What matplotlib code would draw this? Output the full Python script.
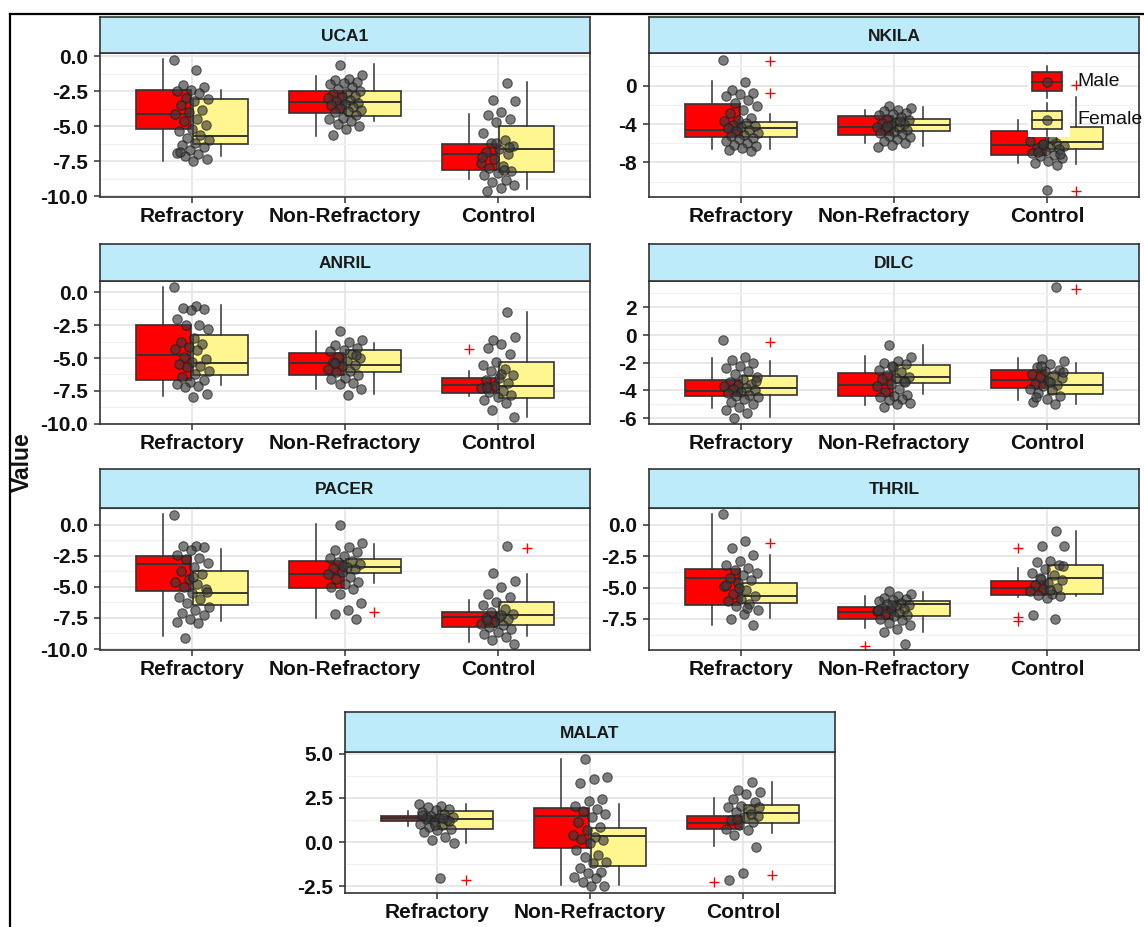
import numpy as np
import matplotlib
matplotlib.use("Agg")
import matplotlib.pyplot as plt
from matplotlib.lines import Line2D
from matplotlib.patches import Rectangle

plt.rcParams['font.family'] = ['Liberation Sans', 'DejaVu Sans']

CATEGORIES = ["Refractory", "Non-Refractory", "Control"]
SEXES = ["Male", "Female"]

# box statistics per group: (lower whisker, q1, median, q3, upper whisker)
UCA1_MALE = [(-7.5, -5.19, -4.12, -2.43, -0.19), (-5.67, -4.02, -3.29, -2.45, -1.38), (-8.76, -8.14, -6.95, -6.24, -4.1)]
UCA1_FEMALE = [(-7.1, -6.24, -5.67, -3.05, -2.43), (-4.64, -4.24, -3.29, -2.45, -0.55), (-9.45, -8.24, -6.6, -4.95, -1.86)]
UCA1_OUT_MALE = [[], [], []]
UCA1_OUT_FEMALE = [[], [], []]
UCA1_POINTS = [
    [-0.24, -1.0, -2.05, -2.2, -2.4, -2.5, -2.6, -3.0, -3.05, -3.2, -3.5, -3.8, -4.0, -4.1, -4.5, -4.6,
     -4.9, -5.2, -5.3, -5.6, -5.8, -6.0, -6.2, -6.3, -6.5, -6.7, -6.9, -7.0, -7.1, -7.3, -7.5, -6.85],
    [-0.6, -1.3, -1.6, -1.7, -1.8, -1.9, -2.0, -2.2, -2.3, -2.5, -2.6, -2.7, -2.8, -2.9, -3.0, -3.1, -3.2,
     -3.3, -3.4, -3.5, -3.6, -3.7, -3.8, -3.9, -4.0, -4.2, -4.4, -4.5, -4.6, -4.8, -5.0, -5.2, -5.6],
    [-1.9, -3.1, -3.2, -4.0, -4.2, -4.5, -4.7, -5.5, -6.0, -6.2, -6.4, -6.6, -6.8, -7.0, -7.3, -7.6, -7.8,
     -8.0, -8.2, -8.3, -8.5, -8.8, -9.0, -9.2, -9.4, -9.6, -6.5, -6.2, -7.2, -8.1],
]

NKILA_MALE = [(-6.6, -5.36, -4.66, -1.91, 0.45), (-5.98, -5.18, -4.31, -3.13, -2.5), (-8.07, -7.27, -6.23, -4.7, -3.62)]
NKILA_FEMALE = [(-6.6, -5.39, -4.42, -3.83, -2.92), (-6.26, -4.73, -4.14, -3.44, -2.23), (-8.17, -6.57, -5.88, -4.31, -1.18)]
NKILA_OUT_MALE = [[], [], []]
NKILA_OUT_FEMALE = [[2.6, -0.77], [], [0.1, -11.0]]
NKILA_POINTS = [
    [2.7, 0.38, -0.42, -0.77, -0.87, -1.1, -1.46, -1.81, -2.16, -2.5, -2.85, -3.37, -3.55, -3.72, -3.9,
     -4.07, -4.24, -4.35, -4.42, -4.6, -4.77, -4.94, -5.11, -5.29, -5.46, -5.6, -5.81, -5.98, -6.22,
     -6.33, -6.5, -6.75, -6.8],
    [-2.1, -2.3, -2.5, -2.6, -2.8, -3.0, -3.1, -3.3, -3.5, -3.6, -3.8, -3.9, -4.0, -4.1, -4.3, -4.4, -4.5,
     -4.6, -4.8, -4.9, -5.0, -5.2, -5.4, -5.6, -5.8, -6.0, -6.2, -6.4, -3.7, -4.2],
    [-6.0, -6.2, -6.3, -6.4, -6.5, -6.6, -6.8, -7.0, -7.2, -7.3, -7.5, -7.8, -8.1, -8.3, -6.1, -5.8, -5.6,
     -6.9, -7.1, -10.85],
]

ANRIL_MALE = [(-7.93, -6.68, -4.76, -2.5, 0.38), (-7.34, -6.27, -5.37, -4.65, -2.97), (-7.93, -7.7, -7.03, -6.52, -6.01)]
ANRIL_FEMALE = [(-7.08, -6.29, -5.4, -3.27, -0.97), (-7.75, -6.04, -5.52, -4.37, -3.86), (-9.49, -8.08, -7.16, -5.27, -1.48)]
ANRIL_OUT_MALE = [[], [], [-4.3]]
ANRIL_OUT_FEMALE = [[], [], []]
ANRIL_POINTS = [
    [0.38, -1.05, -1.15, -1.3, -1.35, -2.0, -2.45, -2.5, -2.76, -3.45, -3.78, -3.9, -4.17, -4.3, -4.42,
     -4.94, -5.06, -5.32, -5.45, -5.58, -5.7, -5.96, -6.22, -6.47, -6.68, -6.86, -6.99, -7.11, -7.24,
     -7.75, -8.0],
    [-2.95, -3.6, -3.8, -4.0, -4.2, -4.4, -4.5, -4.7, -4.9, -5.0, -5.2, -5.3, -5.5, -5.6, -5.8, -6.0, -6.1,
     -6.3, -6.5, -6.6, -6.9, -7.0, -7.4, -7.8, -5.4, -4.8],
    [-1.5, -3.6, -3.4, -3.9, -4.2, -4.7, -5.3, -5.5, -5.8, -6.0, -6.3, -6.5, -6.7, -6.9, -7.1, -7.3, -7.5,
     -7.6, -7.8, -8.0, -8.2, -8.4, -9.0, -9.5, -6.2, -7.2],
]

DILC_MALE = [(-5.28, -4.41, -4.05, -3.23, -1.64), (-5.04, -4.41, -3.57, -2.75, -1.52), (-4.67, -3.83, -3.23, -2.51, -1.64)]
DILC_FEMALE = [(-5.88, -4.31, -3.81, -2.99, -1.9), (-4.24, -3.47, -3.04, -2.14, -0.7), (-4.96, -4.29, -3.57, -2.75, -2.0)]
DILC_OUT_MALE = [[], [], []]
DILC_OUT_FEMALE = [[-0.5], [], [3.3]]
DILC_POINTS = [
    [-0.35, -1.6, -1.8, -2.0, -2.2, -2.4, -2.6, -2.8, -3.0, -3.2, -3.4, -3.5, -3.6, -3.7, -3.8, -3.9, -4.0,
     -4.1, -4.2, -4.3, -4.4, -4.5, -4.6, -4.8, -5.0, -5.2, -5.4, -5.6, -6.0, -3.3],
    [-0.75, -1.6, -1.9, -2.0, -2.1, -2.3, -2.5, -2.7, -2.9, -3.0, -3.1, -3.2, -3.3, -3.5, -3.7, -3.9, -4.1,
     -4.3, -4.4, -4.5, -4.6, -4.7, -4.9, -5.0, -5.2, -3.4, -2.2],
    [3.5, -1.7, -1.9, -2.1, -2.3, -2.5, -2.6, -2.8, -2.9, -3.0, -3.1, -3.3, -3.5, -3.6, -3.7, -3.9, -4.0,
     -4.2, -4.4, -4.6, -4.8, -5.0, -2.2, -2.7, -3.4, -4.5],
]

PACER_MALE = [(-8.92, -5.3, -3.2, -2.55, 0.89), (-7.5, -5.08, -3.95, -2.93, 0.08), (-9.46, -8.25, -7.39, -7.04, -6.05)]
PACER_FEMALE = [(-7.77, -6.5, -5.46, -3.74, -1.94), (-4.7, -3.9, -3.44, -2.8, -1.53), (-8.92, -8.06, -7.28, -6.24, -3.95)]
PACER_OUT_MALE = [[], [], []]
PACER_OUT_FEMALE = [[], [-7.04], [-1.85]]
PACER_POINTS = [
    [0.8, -1.7, -1.75, -1.8, -2.0, -2.4, -2.7, -2.8, -3.1, -3.4, -3.7, -4.0, -4.4, -4.6, -4.8, -5.0, -5.2,
     -5.5, -5.8, -6.0, -6.3, -6.6, -6.9, -7.1, -7.3, -7.6, -7.8, -7.9, -9.1, -5.4, -4.2],
    [0.0, -1.5, -1.8, -2.0, -2.2, -2.5, -2.7, -2.9, -3.0, -3.2, -3.4, -3.5, -3.6, -3.8, -4.0, -4.2, -4.4,
     -4.6, -4.8, -5.0, -5.2, -5.6, -6.3, -6.9, -7.2, -7.6, -3.3],
    [-1.7, -3.9, -4.5, -5.0, -5.6, -5.8, -6.2, -6.5, -6.8, -7.0, -7.2, -7.4, -7.5, -7.6, -7.8, -8.0, -8.1,
     -8.2, -8.4, -8.6, -8.8, -9.0, -9.3, -9.6, -7.3, -7.7],
]

THRIL_MALE = [(-7.96, -6.35, -4.21, -3.54, 0.88), (-8.23, -7.53, -6.94, -6.57, -5.63), (-5.74, -5.6, -5.01, -4.48, -3.4)]
THRIL_FEMALE = [(-7.43, -6.22, -5.66, -4.64, -2.39), (-8.5, -7.29, -6.3, -6.03, -5.36), (-5.68, -5.47, -4.21, -3.19, -0.51)]
THRIL_OUT_MALE = [[], [-9.62], [-1.85, -7.35, -7.69]]
THRIL_OUT_FEMALE = [[-1.42], [], []]
THRIL_POINTS = [
    [0.83, -1.3, -1.85, -2.4, -2.9, -3.2, -3.4, -3.6, -3.8, -4.0, -4.2, -4.4, -4.6, -4.9, -5.2, -5.5, -5.7,
     -5.9, -6.1, -6.3, -6.5, -6.8, -7.1, -7.5, -8.0, -5.0, -4.8, -6.6],
    [-5.3, -5.5, -5.7, -5.8, -5.9, -6.0, -6.1, -6.2, -6.3, -6.4, -6.5, -6.6, -6.7, -6.8, -6.9, -7.0, -7.1,
     -7.2, -7.3, -7.5, -7.6, -7.8, -8.0, -8.3, -8.5, -9.5, -6.35, -6.75],
    [-0.5, -1.7, -1.72, -2.9, -3.0, -3.2, -3.5, -3.8, -4.0, -4.2, -4.4, -4.6, -4.8, -5.0, -5.1, -5.3, -5.5,
     -5.6, -5.7, -5.8, -7.2, -7.5, -4.3, -3.3, -5.2],
]

MALAT_MALE = [(0.9, 1.19, 1.36, 1.47, 1.75), (-2.44, -0.35, 1.47, 1.94, 4.72), (-0.2, 0.73, 1.1, 1.47, 2.5)]
MALAT_FEMALE = [(-0.02, 0.73, 1.29, 1.75, 2.16), (-2.44, -1.32, 0.37, 0.82, 2.16), (0.54, 1.1, 1.68, 2.13, 3.43)]
MALAT_OUT_MALE = [[], [], [-2.26]]
MALAT_OUT_FEMALE = [[-2.13], [], [-1.85]]
MALAT_POINTS = [
    [2.16, 2.07, 1.98, 1.9, 1.8, 1.7, 1.6, 1.5, 1.45, 1.38, 1.3, 1.23, 1.14, 1.05, 0.95, 0.86, 0.77, 0.67,
     0.58, 0.3, 0.11, -0.07, -2.03, 1.4, 1.2, 1.0, 1.55, 1.35],
    [4.72, 3.69, 3.6, 3.32, 2.44, 2.35, 2.07, 1.88, 1.75, 1.6, 1.42, 1.14, 0.86, 0.67, 0.39, 0.3, 0.2,
     0.11, -0.07, -0.45, -0.73, -0.82, -1.1, -1.2, -1.48, -1.66, -1.76, -1.94, -2.04, -2.22, -2.5, -2.45],
    [3.43, 2.95, 2.82, 2.72, 2.44, 2.26, 2.07, 1.98, 1.8, 1.7, 1.51, 1.42, 1.23, 1.14, 0.95, 0.77, 0.67,
     0.39, -0.26, -1.75, -2.13, 1.6, 1.3, 2.0],
]

# y-axis ranges and labelled breaks for each facet
UCA1_YLIM, UCA1_TICKS = (-10.05, 0.25), [0.0, -2.5, -5.0, -7.5, -10.0]
NKILA_YLIM, NKILA_TICKS = (-11.6, 3.4), [0, -4, -8]
ANRIL_YLIM, ANRIL_TICKS = (-10.03, 0.87), [0.0, -2.5, -5.0, -7.5, -10.0]
DILC_YLIM, DILC_TICKS = (-6.42, 3.9), [2, 0, -2, -4, -6]
PACER_YLIM, PACER_TICKS = (-10.08, 1.34), [0.0, -2.5, -5.0, -7.5, -10.0]
THRIL_YLIM, THRIL_TICKS = (-9.97, 1.34), [0.0, -2.5, -5.0, -7.5]
MALAT_YLIM, MALAT_TICKS = (-2.87, 5.1), [5.0, 2.5, 0.0, -2.5]

MALE_COLOR = "#FF0000"
FEMALE_COLOR = "#FFF68F"
STRIP_COLOR = "#BEEBFA"
EDGE = "#333333"
POINT_FILL = "#3A3A3A"

W, H = 1144, 927
fig = plt.figure(figsize=(W / 100, H / 100), dpi=100)
fig.patch.set_facecolor("white")


def px_axes(x0, x1, y0, y1):
    return fig.add_axes([x0 / W, 1 - y1 / H, (x1 - x0) / W, (y1 - y0) / H])


def fmt(v, decimals):
    return f"{v:.{decimals}f}"


def draw_panel(title, cols, rows, male, female, out_m, out_f, points, ylim, ticks, decimals):
    x0, x1 = cols
    s0, y0, y1 = rows
    ax = px_axes(x0, x1, y0, y1)
    sax = px_axes(x0, x1, s0, y0)

    # strip header
    sax.set_facecolor(STRIP_COLOR)
    sax.set_xticks([])
    sax.set_yticks([])
    for sp in sax.spines.values():
        sp.set_color(EDGE)
        sp.set_linewidth(1.2)
    sax.text(0.5, 0.47, title, ha="center", va="center", fontsize=12.5,
             fontweight="bold", color="#1A1A1A", transform=sax.transAxes)

    ax.set_xlim(0.4, 3.6)
    ax.set_ylim(*ylim)
    ax.set_axisbelow(True)

    step = abs(ticks[0] - ticks[1])
    minor = []
    m = max(ticks) + step / 2
    while m > ylim[0]:
        if m < ylim[1]:
            minor.append(m)
        m -= step
    ax.set_yticks(minor, minor=True)
    ax.set_yticks(ticks, [fmt(t, decimals) for t in ticks], fontsize=15, fontweight="bold")
    ax.set_xticks([1, 2, 3], CATEGORIES, fontsize=15, fontweight="bold")
    ax.tick_params(axis="y", which="minor", length=0)
    ax.tick_params(axis="both", which="major", length=4.5, width=1.1, color=EDGE,
                   labelcolor="#111111")
    ax.tick_params(axis="y", pad=4)
    ax.tick_params(axis="x", pad=3)
    ax.grid(True, which="major", color="#E6E6E6", linewidth=1.3)
    ax.grid(True, which="minor", axis="y", color="#F0F0F0", linewidth=0.9)
    for sp in ax.spines.values():
        sp.set_color(EDGE)
        sp.set_linewidth(1.2)

    for stats, outs, color, shift in ((male, out_m, MALE_COLOR, -0.1875),
                                      (female, out_f, FEMALE_COLOR, 0.1875)):
        bstats = []
        for (lo, q1, med, q3, hi), fl in zip(stats, outs):
            bstats.append(dict(whislo=lo, q1=q1, med=med, q3=q3, whishi=hi, fliers=fl))
        ax.bxp(bstats, positions=[1 + shift, 2 + shift, 3 + shift], widths=0.36,
               patch_artist=True, showcaps=False, manage_ticks=False,
               boxprops=dict(facecolor=color, edgecolor=EDGE, linewidth=1.2),
               medianprops=dict(color=EDGE, linewidth=1.4),
               whiskerprops=dict(color=EDGE, linewidth=1.1),
               flierprops=dict(marker="+", markeredgecolor="#FF0000", markersize=7,
                               markeredgewidth=1.0, linestyle="none"))

    # jittered observations, spread with a golden-ratio sequence
    for ci, vals in enumerate(points):
        n = len(vals)
        off = ((np.arange(n) * 0.6180339887 + 0.37 * ci) % 1.0 - 0.5) * 0.23
        ax.scatter(ci + 1 + off, vals, s=46, color=POINT_FILL, alpha=0.65,
                   edgecolors="#1A1A1A", linewidths=0.8, zorder=4)
    return ax


LEFT, RIGHT, MID = (100, 590), (649, 1139), (345, 835)
ROW1, ROW2, ROW3, ROW4 = (17, 53, 197), (244, 281, 424), (469, 508, 650), (712, 752, 893)

draw_panel("UCA1", LEFT, ROW1, UCA1_MALE, UCA1_FEMALE, UCA1_OUT_MALE, UCA1_OUT_FEMALE,
           UCA1_POINTS, UCA1_YLIM, UCA1_TICKS, 1)
ax_nk = draw_panel("NKILA", RIGHT, ROW1, NKILA_MALE, NKILA_FEMALE, NKILA_OUT_MALE, NKILA_OUT_FEMALE,
                   NKILA_POINTS, NKILA_YLIM, NKILA_TICKS, 0)
draw_panel("ANRIL", LEFT, ROW2, ANRIL_MALE, ANRIL_FEMALE, ANRIL_OUT_MALE, ANRIL_OUT_FEMALE,
           ANRIL_POINTS, ANRIL_YLIM, ANRIL_TICKS, 1)
draw_panel("DILC", RIGHT, ROW2, DILC_MALE, DILC_FEMALE, DILC_OUT_MALE, DILC_OUT_FEMALE,
           DILC_POINTS, DILC_YLIM, DILC_TICKS, 0)
draw_panel("PACER", LEFT, ROW3, PACER_MALE, PACER_FEMALE, PACER_OUT_MALE, PACER_OUT_FEMALE,
           PACER_POINTS, PACER_YLIM, PACER_TICKS, 1)
draw_panel("THRIL", RIGHT, ROW3, THRIL_MALE, THRIL_FEMALE, THRIL_OUT_MALE, THRIL_OUT_FEMALE,
           THRIL_POINTS, THRIL_YLIM, THRIL_TICKS, 1)
draw_panel("MALAT", MID, ROW4, MALAT_MALE, MALAT_FEMALE, MALAT_OUT_MALE, MALAT_OUT_FEMALE,
           MALAT_POINTS, MALAT_YLIM, MALAT_TICKS, 1)

# legend drawn inside the NKILA facet (keys on a white background)
lx0, lx1 = (1028 - 649) / 490, (1070 - 649) / 490


def ay(py):
    return (197 - py) / (197 - 53)


bg = Rectangle((lx0, ay(137)), lx1 - lx0, ay(55) - ay(137), transform=ax_nk.transAxes,
               facecolor="white", edgecolor="none", zorder=6)
ax_nk.add_patch(bg)
kx0, kx1 = (1032 - 649) / 490, (1062 - 649) / 490
kxc = (kx0 + kx1) / 2
for label, color, (wt, bt, bb, wb) in ((SEXES[0], MALE_COLOR, (66, 72, 91, 98)),
                                       (SEXES[1], FEMALE_COLOR, (103, 111, 129, 136))):
    ax_nk.add_patch(Rectangle((kx0, ay(bb)), kx1 - kx0, ay(bt) - ay(bb), transform=ax_nk.transAxes,
                              facecolor=color, edgecolor=EDGE, linewidth=1.2, zorder=7, clip_on=False))
    for a, b in ((wt, bt), (bb, wb)):
        ax_nk.add_line(Line2D([kxc, kxc], [ay(a), ay(b)], transform=ax_nk.transAxes,
                              color=EDGE, linewidth=1.1, zorder=7, clip_on=False))
    mid = (bt + bb) / 2
    ax_nk.add_line(Line2D([kx0, kx1], [ay(mid), ay(mid)], transform=ax_nk.transAxes,
                          color=EDGE, linewidth=1.3, zorder=7, clip_on=False))
    ax_nk.scatter([kxc], [ay(mid)], s=46, color=POINT_FILL, alpha=0.65, edgecolors="#1A1A1A",
                  linewidths=0.8, transform=ax_nk.transAxes, zorder=8, clip_on=False)
    ax_nk.text((1077 - 649) / 490, ay(mid), label, transform=ax_nk.transAxes, fontsize=14,
               va="center", ha="left", color="#111111", zorder=8, clip_on=False)

fig.text(22 / W, 1 - 462 / H, "Value", rotation=90, ha="center", va="center",
         fontsize=16.5, fontweight="bold", color="#111111")

# outer frame lines on the top and left
fig.add_artist(Line2D([10 / W, 10 / W], [0, 1 - 14 / H], color="black", linewidth=1.6))
fig.add_artist(Line2D([10 / W, 1], [1 - 14 / H, 1 - 14 / H], color="black", linewidth=1.6))

fig.savefig("out.png", dpi=100, facecolor="white")
